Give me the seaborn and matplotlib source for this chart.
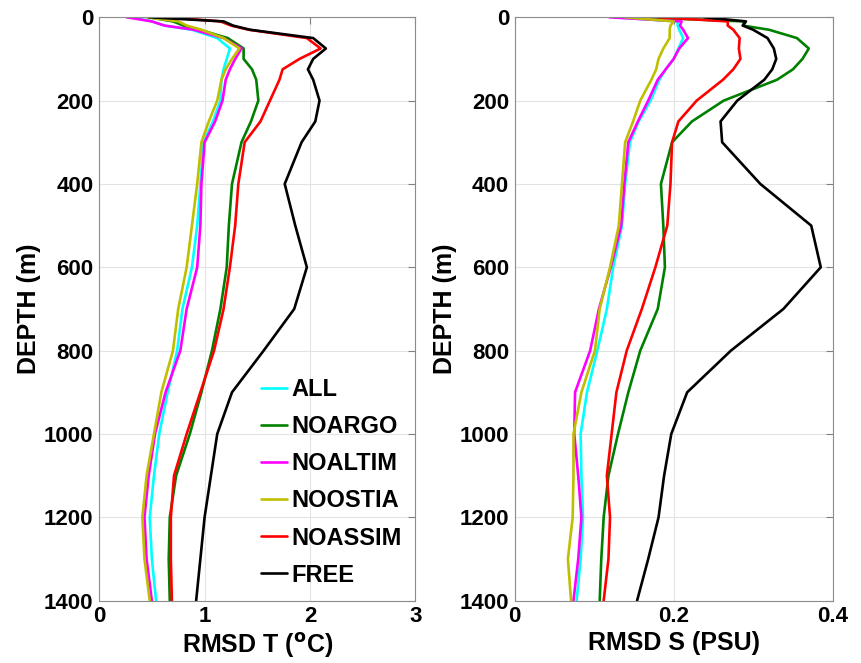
import numpy as np
import pandas as pd
import seaborn as sns
import matplotlib
matplotlib.use("Agg")
import matplotlib.pyplot as plt

# standard depth levels (m)
depth = [0, 10, 20, 30, 50, 75, 100, 125, 150, 200, 250, 300, 400, 500,
         600, 700, 800, 900, 1000, 1100, 1200, 1300, 1400]

runs = ["ALL", "NOARGO", "NOALTIM", "NOOSTIA", "NOASSIM", "FREE"]
colors = ["#00ffff", "#008000", "#ff00ff", "#bfbf00", "#ff0000", "#000000"]

# RMSD temperature (deg C)
rmsd_t_all = [0.32, 0.50, 0.62, 0.88, 1.12, 1.24, 1.21, 1.18, 1.16, 1.15, 1.08, 0.99,
              0.96, 0.93, 0.88, 0.79, 0.74, 0.65, 0.57, 0.52, 0.48, 0.50, 0.54]
rmsd_t_noargo = [0.47, 0.70, 0.80, 0.95, 1.22, 1.37, 1.37, 1.45, 1.49, 1.51, 1.44, 1.35,
                 1.26, 1.23, 1.21, 1.15, 1.07, 0.97, 0.86, 0.73, 0.67, 0.66, 0.67]
rmsd_t_noaltim = [0.26, 0.50, 0.62, 0.90, 1.18, 1.35, 1.29, 1.24, 1.20, 1.17, 1.10, 1.00,
                  0.97, 0.96, 0.93, 0.83, 0.77, 0.63, 0.53, 0.47, 0.43, 0.45, 0.50]
rmsd_t_noostia = [0.45, 0.75, 0.83, 0.97, 1.18, 1.33, 1.26, 1.20, 1.16, 1.12, 1.04, 0.97,
                  0.93, 0.88, 0.83, 0.75, 0.70, 0.59, 0.52, 0.45, 0.41, 0.43, 0.48]
rmsd_t_noassim = [0.64, 1.15, 1.25, 1.42, 1.97, 2.10, 1.90, 1.74, 1.71, 1.62, 1.53, 1.38,
                  1.32, 1.29, 1.24, 1.18, 1.09, 0.96, 0.83, 0.71, 0.68, 0.68, 0.69]
rmsd_t_free = [0.47, 1.18, 1.27, 1.43, 2.03, 2.15, 2.03, 1.98, 2.03, 2.09, 2.05, 1.92,
               1.76, 1.86, 1.97, 1.85, 1.56, 1.26, 1.12, 1.06, 1.00, 0.96, 0.92]

# RMSD salinity (PSU)
rmsd_s_all = [0.124, 0.205, 0.205, 0.207, 0.212, 0.206, 0.200, 0.190, 0.182, 0.171, 0.156, 0.145,
              0.139, 0.135, 0.124, 0.116, 0.104, 0.091, 0.083, 0.084, 0.086, 0.083, 0.078]
rmsd_s_noargo = [0.158, 0.289, 0.287, 0.320, 0.355, 0.370, 0.362, 0.350, 0.330, 0.263, 0.223, 0.198,
                 0.184, 0.187, 0.189, 0.180, 0.158, 0.143, 0.130, 0.118, 0.112, 0.109, 0.107]
rmsd_s_noaltim = [0.119, 0.210, 0.208, 0.212, 0.218, 0.207, 0.200, 0.190, 0.180, 0.168, 0.155, 0.143,
                  0.138, 0.134, 0.121, 0.106, 0.095, 0.076, 0.075, 0.080, 0.084, 0.080, 0.074]
rmsd_s_noostia = [0.139, 0.200, 0.196, 0.195, 0.195, 0.187, 0.181, 0.178, 0.172, 0.158, 0.149, 0.139,
                  0.135, 0.131, 0.120, 0.107, 0.101, 0.084, 0.074, 0.074, 0.073, 0.067, 0.071]
rmsd_s_noassim = [0.180, 0.268, 0.268, 0.275, 0.283, 0.282, 0.284, 0.275, 0.262, 0.229, 0.206, 0.198,
                  0.196, 0.192, 0.177, 0.160, 0.141, 0.128, 0.122, 0.116, 0.120, 0.118, 0.112]
rmsd_s_free = [0.238, 0.291, 0.287, 0.300, 0.318, 0.326, 0.329, 0.324, 0.314, 0.280, 0.259, 0.261,
               0.309, 0.373, 0.385, 0.338, 0.272, 0.217, 0.197, 0.188, 0.181, 0.168, 0.154]

t_vals = [rmsd_t_all, rmsd_t_noargo, rmsd_t_noaltim, rmsd_t_noostia, rmsd_t_noassim, rmsd_t_free]
s_vals = [rmsd_s_all, rmsd_s_noargo, rmsd_s_noaltim, rmsd_s_noostia, rmsd_s_noassim, rmsd_s_free]

rows = []
for run, tv, sv in zip(runs, t_vals, s_vals):
    for d, t, s in zip(depth, tv, sv):
        rows.append({"run": run, "depth": d, "T": t, "S": s})
df = pd.DataFrame(rows)

sns.set_style("white")
plt.rcParams["font.family"] = ["Liberation Sans", "DejaVu Sans"]
plt.rcParams["font.weight"] = "bold"
plt.rcParams["axes.labelweight"] = "bold"
plt.rcParams["mathtext.default"] = "bf"
plt.rcParams["text.color"] = "black"
plt.rcParams["axes.labelcolor"] = "black"

fig = plt.figure(figsize=(8.62, 6.63), dpi=100)
ax1 = fig.add_axes([0.115, 0.094, 0.367, 0.880])
ax2 = fig.add_axes([0.597, 0.094, 0.369, 0.880])
palette = dict(zip(runs, colors))

for ax, col, xmax, xticks, xlab in [
    (ax1, "T", 3, [0, 1, 2, 3], "RMSD T ($^{o}$C)"),
    (ax2, "S", 0.4, [0, 0.2, 0.4], "RMSD S (PSU)"),
]:
    sns.lineplot(data=df, x=col, y="depth", hue="run", hue_order=runs, palette=palette,
                 sort=False, estimator=None, orient="y", linewidth=1.9, ax=ax,
                 legend=(ax is ax1))
    ax.set_xlim(0, xmax)
    ax.set_ylim(1400, 0)
    ax.set_xticks(xticks)
    ax.set_xticklabels(["0" if v == 0 else f"{v:g}" for v in xticks])
    ax.set_yticks(range(0, 1401, 200))
    ax.grid(True, color="#e3e3e3", linewidth=0.8)
    ax.tick_params(direction="in", length=5, color="#808080", labelcolor="black",
                   labelsize=16, top=True, right=True, pad=4)
    for sp in ax.spines.values():
        sp.set_color("#8c8c8c")
        sp.set_linewidth(0.8)
    ax.set_xlabel(xlab, fontsize=18, fontweight="bold", labelpad=3)
    ax.set_ylabel("DEPTH (m)", fontsize=18, fontweight="bold", labelpad=2)

leg = ax1.legend(loc="lower left", bbox_to_anchor=(0.512, 0.024), frameon=False,
                 fontsize=17, handlelength=1.1, handletextpad=0.2, labelspacing=0.6,
                 borderpad=0, borderaxespad=0)
for t in leg.get_texts():
    t.set_fontweight("bold")
for h in leg.get_lines():
    h.set_linewidth(1.9)

fig.savefig("out.png", dpi=100)
